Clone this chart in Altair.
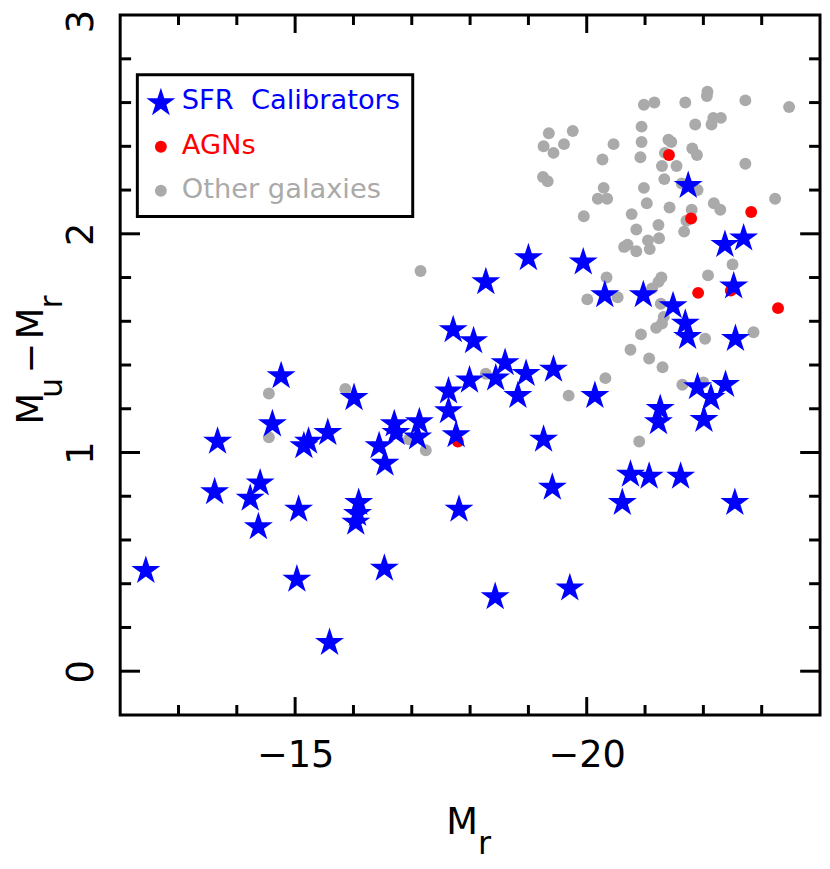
import altair as alt
import pandas as pd

# ---------------- data ----------------
sfr_mr = [-21.74, -22.37, -22.69, -19.00, -19.94, -18.27, -20.31, -20.97, -21.48, -21.69,
          -21.73, -22.52, -22.55, -17.71, -18.06, -18.60, -18.44, -17.99, -18.96, -19.43,
          -18.82, -17.63, -17.63, -17.13, -17.10, -16.70, -16.73, -17.76, -20.14, -19.26,
          -21.90, -22.13, -22.38, -21.26, -21.23, -22.01, -20.75, -21.07, -21.61, -19.41,
          -17.81, -20.61, -22.54, -18.43, -19.71, -13.62, -14.23, -14.40, -14.37, -15.06,
          -16.09, -16.07, -16.04, -12.44, -15.03, -16.53, -15.59, -16.54, -14.76, -16.01,
          -14.61, -13.67, -15.15, -15.23, -15.56, -16.44]
sfr_color = [2.22, 1.95, 1.98, 1.89, 1.87, 1.78, 1.72, 1.72, 1.67, 1.59,
             1.53, 1.76, 1.52, 1.56, 1.51, 1.41, 1.34, 1.33, 1.36, 1.38,
             1.26, 1.28, 1.19, 1.14, 1.07, 1.13, 1.09, 1.08, 1.26, 1.06,
             1.30, 1.25, 1.31, 1.20, 1.14, 1.15, 0.90, 0.89, 0.89, 0.84,
             0.74, 0.77, 0.77, 0.34, 0.38, 0.82, 0.79, 0.86, 0.66, 0.74,
             0.77, 0.72, 0.68, 0.46, 0.42, 0.47, 0.13, 0.95, 1.35, 1.25,
             1.13, 1.05, 1.03, 1.05, 1.09, 1.03]

agn_mr = [-21.41, -21.79, -22.82, -21.91, -22.47, -23.28, -17.79]
agn_color = [2.36, 2.07, 2.10, 1.73, 1.74, 1.66, 1.05]

oth_mr = [-19.35, -19.26, -19.43, -19.61, -19.76, -19.25, -19.33, -19.95, -20.27, -20.46,
          -20.29, -20.19, -20.35, -20.98, -21.16, -20.94, -20.94, -20.92, -20.98, -21.03,
          -20.77, -20.85, -21.05, -21.08, -20.64, -20.70, -20.85, -21.23, -21.24, -21.40,
          -21.45, -21.34, -21.29, -21.54, -21.33, -21.42, -21.69, -21.86, -21.81, -21.89,
          -21.63, -21.90, -21.80, -21.71, -21.67, -22.07, -22.06, -22.17, -22.30, -22.14,
          -22.72, -22.72, -22.18, -22.29, -23.23, -23.47, -17.15, -20.34, -20.01, -20.53,
          -21.28, -21.23, -21.12, -21.27, -21.32, -21.29, -21.19, -20.93, -20.75, -21.07,
          -21.30, -22.08, -22.50, -22.03, -22.86, -20.32, -19.69, -18.27, -21.64, -22.00,
          -20.90, -16.95, -17.24, -14.55, -15.86, -14.55]
oth_color = [2.46, 2.40, 2.37, 2.41, 2.47, 2.26, 2.24, 2.08, 2.34, 2.41,
             2.21, 2.16, 2.16, 2.59, 2.60, 2.49, 2.42, 2.35, 2.21, 2.14,
             2.09, 2.02, 1.97, 1.93, 1.94, 1.95, 1.92, 2.04, 1.98, 2.43,
             2.42, 2.37, 2.31, 2.31, 2.25, 2.12, 2.60, 2.50, 2.39, 2.36,
             2.23, 2.20, 2.11, 2.06, 2.01, 2.65, 2.63, 2.53, 2.53, 2.50,
             2.61, 2.32, 2.14, 2.11, 2.16, 2.58, 1.83, 1.80, 1.70, 1.71,
             1.80, 1.78, 1.75, 1.68, 1.62, 1.59, 1.57, 1.54, 1.47, 1.43,
             1.39, 1.81, 1.86, 1.52, 1.55, 1.34, 1.26, 1.36, 1.31, 1.32,
             1.05, 1.06, 1.01, 1.27, 1.29, 1.07]

x_major = [-15, -20]
x_minor = [-13, -14, -16, -17, -18, -19, -21, -22, -23]
y_major = [0, 1, 2]
y_minor = [0.2, 0.4, 0.6, 0.8, 1.2, 1.4, 1.6, 1.8, 2.2, 2.4, 2.6, 2.8]
x_labels = [-20, -15]
y_labels = [0, 1, 2, 3]

legend_labels = ["SFR\u00a0 Calibrators", "AGNs", "Other galaxies"]

# ---------------- styling ----------------
W = H = 705
FONT = "DejaVu Sans"
BLUE, RED, GRAY = "#0000ff", "#ff0000", "#aaaaaa"
STAR = ("M0,-1 L0.2245,-0.309 L0.9511,-0.309 L0.3633,0.118 L0.5878,0.809 "
        "L0,0.382 L-0.5878,0.809 L-0.3633,0.118 L-0.9511,-0.309 L-0.2245,-0.309 Z")
STAR_SIZE = 940
DOT_SIZE = 144

xs = alt.Scale(domain=[-24, -12], reverse=True, nice=False, zero=False)
ys = alt.Scale(domain=[-0.2, 3], nice=False, zero=False)
x_axis = alt.Axis(values=x_labels, title=None, labelAngle=0, labelAlign="center",
                  labelBaseline="top", labelPadding=23)
y_axis = alt.Axis(values=y_labels, title=None, labelAngle=270, labelAlign="center",
                  labelBaseline="bottom", labelPadding=20,
                  labelOffset={"condition": {"test": "datum.value == 3", "value": 6}, "value": 0})

df_sfr = pd.DataFrame({"Mr": sfr_mr, "c": sfr_color})
df_agn = pd.DataFrame({"Mr": agn_mr, "c": agn_color})
df_oth = pd.DataFrame({"Mr": oth_mr, "c": oth_color})
one = alt.Data(values=[{"k": 1}])

X = alt.X("Mr:Q", scale=xs, axis=x_axis)
Y = alt.Y("c:Q", scale=ys, axis=y_axis)

layers = []

# inward ticks on all four sides
def yticks(vals, length):
    d = pd.DataFrame({"c": vals})
    left = alt.Chart(d).mark_rule(color="black", strokeWidth=3).encode(
        y=Y, x=alt.value(0), x2=alt.value(length))
    right = alt.Chart(d).mark_rule(color="black", strokeWidth=3).encode(
        y=Y, x=alt.value(W), x2=alt.value(W - length))
    return [left, right]

def xticks(vals, length):
    d = pd.DataFrame({"Mr": vals})
    bottom = alt.Chart(d).mark_rule(color="black", strokeWidth=3).encode(
        x=X, y=alt.value(H), y2=alt.value(H - length))
    top = alt.Chart(d).mark_rule(color="black", strokeWidth=3).encode(
        x=X, y=alt.value(0), y2=alt.value(length))
    return [bottom, top]

layers += yticks(y_major, 20) + yticks(y_minor, 11)
layers += xticks(x_major, 18) + xticks(x_minor, 10)

# data points
layers.append(alt.Chart(df_oth).mark_circle(size=DOT_SIZE, color=GRAY, opacity=1).encode(x=X, y=Y))
layers.append(alt.Chart(df_agn).mark_circle(size=DOT_SIZE, color=RED, opacity=1).encode(x=X, y=Y))
layers.append(alt.Chart(df_sfr).mark_point(shape=STAR, size=STAR_SIZE, filled=True, color=BLUE,
                                           opacity=1, strokeWidth=0).encode(x=X, y=Y))

# legend
layers.append(alt.Chart(one).mark_rect(fill="white", stroke="black", strokeWidth=3).encode(
    x=alt.value(17.3), x2=alt.value(294.7), y=alt.value(60), y2=alt.value(203)))
layers.append(alt.Chart(one).mark_point(shape=STAR, size=STAR_SIZE, filled=True, color=BLUE,
                                        opacity=1, strokeWidth=0).encode(
    x=alt.value(41), y=alt.value(88.4)))
layers.append(alt.Chart(one).mark_circle(size=DOT_SIZE, color=RED, opacity=1).encode(
    x=alt.value(41), y=alt.value(132.7)))
layers.append(alt.Chart(one).mark_circle(size=DOT_SIZE, color=GRAY, opacity=1).encode(
    x=alt.value(41), y=alt.value(177)))
for lab, col, ypos in zip(legend_labels, [BLUE, RED, GRAY], [87, 132, 176]):
    layers.append(alt.Chart(one).mark_text(font=FONT, fontSize=27.5, align="left",
                                           baseline="middle", color=col).encode(
        x=alt.value(62), y=alt.value(ypos), text=alt.value(lab)))

# axis titles with subscripts
def txt(s, x, y, size, angle=0):
    return alt.Chart(one).mark_text(font=FONT, fontSize=size, align="center",
                                    baseline="alphabetic", color="black", angle=angle).encode(
        x=alt.value(x), y=alt.value(y), text=alt.value(s))

layers.append(txt("M", 344.5, 825, 37))
layers.append(txt("r", 367, 845, 32))
layers.append(txt("M", -78, 396.5, 37, 270))
layers.append(txt("u", -59, 375.5, 32, 270))
layers.append(txt("\u2212", -78, 345.5, 37, 270))
layers.append(txt("M", -78, 310.5, 37, 270))
layers.append(txt("r", -59, 289, 32, 270))

chart = alt.layer(*layers).properties(
    width=W, height=H,
    autosize=alt.AutoSizeParams(type="none"),
    padding={"left": 113, "top": 4, "right": 2, "bottom": 145},
    background="white",
).configure_view(
    stroke="black", strokeWidth=3
).configure_axis(
    grid=False, ticks=False, tickSize=0, domain=False,
    labelFont=FONT, labelFontSize=37, labelColor="black",
    labelOverlap=False, labelFlush=False,
)

chart.save("out.html", embed_options={"renderer": "svg", "actions": False})
